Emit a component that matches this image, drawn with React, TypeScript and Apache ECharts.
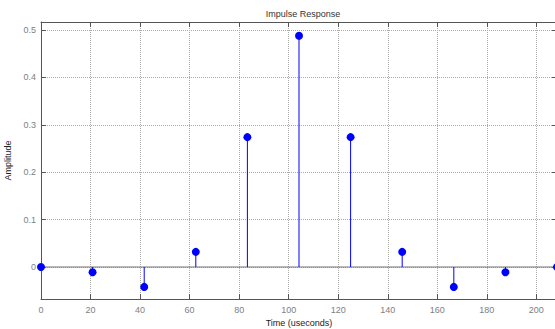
import React, { useEffect, useRef } from "react";
import * as echarts from "echarts";

// Sample instants of the impulse response (microseconds) and their amplitudes
const sampleTimes = [0, 20.83, 41.67, 62.5, 83.33, 104.17, 125, 145.83, 166.67, 187.5, 208.33];
const amplitudes = [0, -0.011, -0.042, 0.032, 0.274, 0.488, 0.274, 0.032, -0.042, -0.011, 0];

// Axis tick positions
const xTicks = [0, 20, 40, 60, 80, 100, 120, 140, 160, 180, 200];
const yTicks = [0, 0.1, 0.2, 0.3, 0.4, 0.5];

const titleText = "Impulse Response";
const xName = "Time (useconds)";
const yName = "Amplitude";

const FONT = "Liberation Sans, Arial, Helvetica, sans-serif";
const FRAME = "#555555";
const GRID = "#ababab";
const LABEL = "#808080";
const STEM = "#0000ff";

export default function App() {
  const ref = useRef<HTMLDivElement>(null);

  useEffect(() => {
    document.body.style.margin = "0";
    if (!ref.current) return;
    const chart = echarts.init(ref.current, undefined, { renderer: "svg" });

    const points = sampleTimes.map((t, i) => [t, amplitudes[i]]);
    const xMin = 0;
    const xMax = 208.33;
    const yMin = -0.0675;
    const yMax = 0.517;

    const frameLine = { show: true, onZero: false, lineStyle: { color: FRAME, width: 1 } };
    const tickStyle = (vals: number[]) => ({
      show: true,
      inside: true,
      length: 5,
      customValues: vals,
      lineStyle: { color: FRAME, width: 1 },
    });

    chart.setOption({
      animation: false,
      backgroundColor: "#ffffff",
      title: {
        text: titleText,
        left: 298,
        textAlign: "center",
        top: 4,
        textStyle: { fontFamily: FONT, fontSize: 9, fontWeight: "normal", color: "#333333" },
      },
      grid: {
        left: 41,
        right: -2,
        top: 22,
        bottom: 30,
        containLabel: false,
        outerBoundsMode: "none",
      },
      xAxis: [
        {
          type: "value",
          position: "bottom",
          min: xMin,
          max: xMax,
          name: xName,
          nameLocation: "middle",
          nameGap: 16,
          nameTextStyle: { fontFamily: FONT, fontSize: 9, color: "#222222" },
          axisLine: frameLine,
          axisTick: tickStyle(xTicks),
          axisLabel: {
            customValues: xTicks,
            margin: 6,
            fontFamily: FONT,
            fontSize: 9,
            color: LABEL,
          },
          splitLine: { show: true, lineStyle: { color: GRID, width: 1, type: [1, 1] } },
        },
        {
          type: "value",
          position: "top",
          min: xMin,
          max: xMax,
          axisLine: frameLine,
          axisTick: tickStyle(xTicks),
          axisLabel: { show: false, customValues: xTicks },
          splitLine: { show: false },
        },
      ],
      yAxis: [
        {
          type: "value",
          position: "left",
          min: yMin,
          max: yMax,
          name: yName,
          nameLocation: "middle",
          nameGap: 22,
          nameTextStyle: { fontFamily: FONT, fontSize: 9, color: "#222222" },
          axisLine: frameLine,
          axisTick: tickStyle(yTicks),
          axisLabel: {
            customValues: yTicks,
            margin: 5,
            fontFamily: FONT,
            fontSize: 9,
            color: LABEL,
            formatter: (v: number) => String(Math.round(v * 10) / 10),
          },
          splitLine: { show: true, lineStyle: { color: GRID, width: 1, type: [1, 1] } },
        },
        {
          type: "value",
          position: "right",
          min: yMin,
          max: yMax,
          axisLine: frameLine,
          axisTick: tickStyle(yTicks),
          axisLabel: { show: false, customValues: yTicks },
          splitLine: { show: false },
        },
      ],
      series: [
        {
          // zero baseline of the stem plot
          type: "line",
          data: [
            [xMin, 0],
            [xMax, 0],
          ],
          symbol: "none",
          silent: true,
          lineStyle: { color: "#777777", width: 1.2 },
          z: 2,
        },
        {
          // stems from the baseline to each sample
          type: "custom",
          data: points,
          z: 3,
          renderItem: (_params: any, api: any) => {
            const t = api.value(0);
            const v = api.value(1);
            const p0 = api.coord([t, 0]);
            const p1 = api.coord([t, v]);
            return {
              type: "line",
              shape: { x1: p0[0], y1: p0[1], x2: p1[0], y2: p1[1] },
              style: { stroke: STEM, lineWidth: 1 },
            };
          },
        },
        {
          // sample markers
          type: "scatter",
          data: points,
          symbol: "circle",
          symbolSize: 8,
          itemStyle: { color: STEM, opacity: 1 },
          clip: false,
          z: 4,
        },
      ],
    });

    return () => chart.dispose();
  }, []);

  return <div ref={ref} style={{ width: 555, height: 329 }} />;
}
